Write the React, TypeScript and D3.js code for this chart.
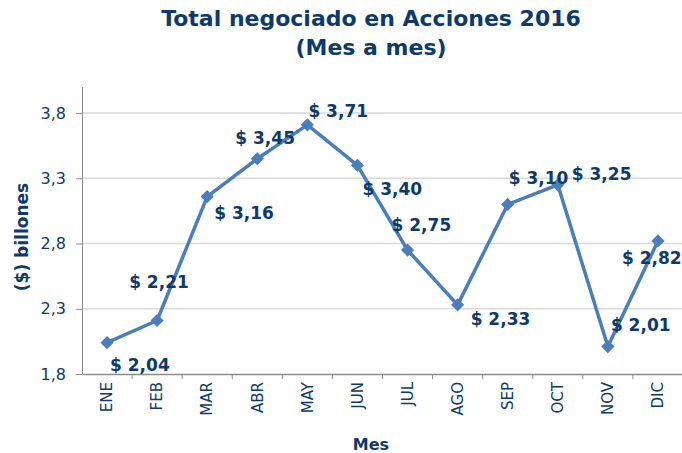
import React, { useEffect, useRef } from 'react';
import * as d3 from 'd3';

const months = ['ENE', 'FEB', 'MAR', 'ABR', 'MAY', 'JUN', 'JUL', 'AGO', 'SEP', 'OCT', 'NOV', 'DIC'];
const values = [2.04, 2.21, 3.16, 3.45, 3.71, 3.40, 2.75, 2.33, 3.10, 3.25, 2.01, 2.82];
const yTicks = [1.8, 2.3, 2.8, 3.3, 3.8];
// where each value label sits relative to its point (dx to text start, dy to text middle)
const labelOffsets = [
  [3, 22], [-28, -38], [7, 16], [-22, -21], [1, -14], [5, 24],
  [-16, -25], [13, 14], [1, -26], [14, -11], [3, -22], [-36, 17],
];

const navy = '#0d3a6a';
const lineColor = '#4a7ebb';
const font = '"DejaVu Sans", Verdana, sans-serif';

export default function App() {
  const ref = useRef<SVGSVGElement>(null);

  useEffect(() => {
    const width = 682, height = 453;
    const margin = { top: 87, left: 82, right: -1, bottom: 79 };
    const svg = d3.select(ref.current).attr('width', width).attr('height', height);
    svg.selectAll('*').remove();

    const x = d3.scaleBand().domain(months).range([margin.left, width - margin.right]);
    const y = d3.scaleLinear().domain([1.8, 4.0]).range([height - margin.bottom, margin.top]);

    // title
    svg.append('text').attr('x', 371).attr('y', 26).attr('text-anchor', 'middle')
      .attr('font-family', font).attr('font-weight', 'bold').attr('font-size', 22).attr('fill', navy)
      .text('Total negociado en Acciones 2016');
    svg.append('text').attr('x', 371).attr('y', 55).attr('text-anchor', 'middle')
      .attr('font-family', font).attr('font-weight', 'bold').attr('font-size', 22).attr('fill', navy)
      .text('(Mes a mes)');

    // gridlines
    svg.append('g').selectAll('line').data(yTicks.slice(1)).join('line')
      .attr('x1', margin.left).attr('x2', width).attr('y1', d => y(d)).attr('y2', d => y(d))
      .attr('stroke', '#d9d9d9').attr('stroke-width', 1.5);

    // y axis
    const yAxis = svg.append('g').attr('transform', `translate(${margin.left},0)`)
      .call(d3.axisLeft(y).tickValues(yTicks).tickSize(6).tickPadding(10)
        .tickFormat(d => d3.format('.1f')(d as number).replace('.', ',')));
    yAxis.select('.domain').attr('stroke', '#8c8c8c').attr('d', `M0.5,${y(1.8)}V${margin.top}`);
    yAxis.selectAll('.tick line').attr('stroke', '#8c8c8c');
    yAxis.selectAll('.tick text').attr('font-family', font).attr('font-size', 16).attr('fill', navy);

    // x axis
    const xAxis = svg.append('g').attr('transform', `translate(0,${y(1.8)})`)
      .call(d3.axisBottom(x).tickSize(0).tickPadding(0));
    xAxis.select('.domain').attr('stroke', '#8c8c8c').attr('stroke-width', 1.5);
    xAxis.selectAll('.tick text').attr('font-family', font).attr('font-size', 15).attr('fill', navy)
      .attr('transform', 'rotate(-90)').attr('text-anchor', 'end').attr('dy', '0.35em')
      .attr('x', -8).attr('y', 0);
    svg.append('g').selectAll('line').data(months.slice(1)).join('line')
      .attr('x1', d => x(d)!).attr('x2', d => x(d)!)
      .attr('y1', y(1.8)).attr('y2', y(1.8) + 5).attr('stroke', '#8c8c8c');

    // axis titles
    svg.append('text').attr('transform', `translate(28,237) rotate(-90)`)
      .attr('text-anchor', 'middle').attr('font-family', font).attr('font-weight', 'bold')
      .attr('font-size', 17).attr('fill', navy).text('($) billones');
    svg.append('text').attr('x', 371).attr('y', 450).attr('text-anchor', 'middle')
      .attr('font-family', font).attr('font-weight', 'bold').attr('font-size', 16).attr('fill', navy)
      .text('Mes');

    const cx = (i: number) => x(months[i])! + x.bandwidth() / 2;

    // line
    const line = d3.line<number>().x((_, i) => cx(i)).y(d => y(d));
    svg.append('path').datum(values).attr('d', line).attr('fill', 'none')
      .attr('stroke', lineColor).attr('stroke-width', 3.5).attr('stroke-linejoin', 'round');

    // markers
    svg.append('g').selectAll('path').data(values).join('path')
      .attr('d', d3.symbol(d3.symbolDiamond2, 110))
      .attr('transform', (d, i) => `translate(${cx(i)},${y(d)})`)
      .attr('fill', lineColor);

    // value labels
    svg.append('g').selectAll('text').data(values).join('text')
      .attr('x', (d, i) => cx(i) + labelOffsets[i][0])
      .attr('y', (d, i) => y(d) + labelOffsets[i][1])
      .attr('dy', '0.35em')
      .attr('font-family', font).attr('font-weight', 'bold').attr('font-size', 17).attr('fill', navy)
      .text(d => '$ ' + d3.format('.2f')(d).replace('.', ','));
  }, []);

  return (
    <div style={{ position: 'absolute', left: 0, top: 0, width: 682, height: 453, overflow: 'hidden' }}>
      <svg ref={ref} style={{ display: 'block' }}></svg>
    </div>
  );
}
